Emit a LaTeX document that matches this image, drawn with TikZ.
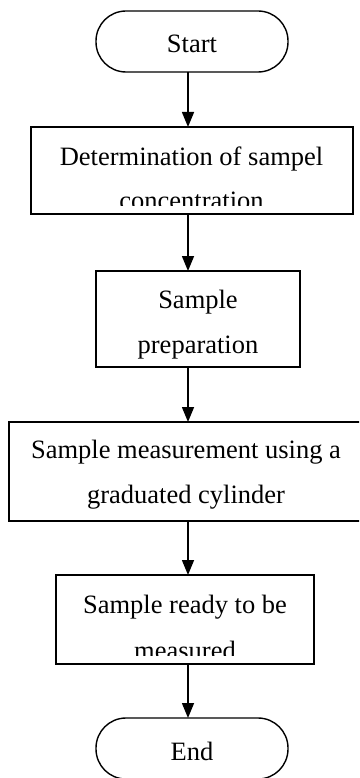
\documentclass[tikz,border=0pt]{standalone}
\usepackage{fontspec}
\setmainfont{Liberation Serif}
\usetikzlibrary{arrows.meta}
\tikzset{
  box/.style={draw, line width=1.4pt, inner sep=0pt, outer sep=0pt},
  term/.style={draw, line width=1.4pt, rounded corners=30pt, inner sep=0pt, outer sep=0pt,
    minimum width=192pt, minimum height=61pt},
  txt/.style={font=\fontsize{26.5}{45}\selectfont, anchor=base, inner sep=0pt},
  arr/.style={-{Triangle[length=15pt,width=12pt]}, line width=1.5pt}
}
\begin{document}
\begin{tikzpicture}[x=1pt,y=-1pt]
\useasboundingbox (0,0) rectangle (359,778);
\clip (0,0) rectangle (359,778);
% shapes
\node[term] (start) at (192,41.5) {};
\node[box, minimum width=322pt, minimum height=87pt] (b1) at (192,170.5) {};
\node[box, minimum width=204pt, minimum height=96pt] (b2) at (198,319) {};
\node[box, minimum width=371pt, minimum height=99pt] (b3) at (194.5,471.5) {};
\node[box, minimum width=258pt, minimum height=89pt] (b4) at (185,619.5) {};
\node[term] (end) at (192,748.5) {};
% texts
\node[txt] (tstart) at (192,53) {Start};
\node[txt] (t1a) at (191.5,165) {Determination of sampel};
\begin{scope}
  \clip (0,180) rectangle (359,205);
  \node[txt] (t1b) at (191.5,209.5) {concentration};
\end{scope}
\node[txt] (t2a) at (198,308) {Sample};
\node[txt] (t2b) at (198,353) {preparation};
\node[txt] (t3a) at (186,458) {Sample measurement using a};
\node[txt] (t3b) at (186,503) {graduated cylinder};
\node[txt] (t4a) at (185,613) {Sample ready to be};
\begin{scope}
  \clip (0,630) rectangle (359,655);
  \node[txt] (t4b) at (185,659) {measured};
\end{scope}
\node[txt] (tend) at (192,760) {End};
% connectors
\coordinate (ax) at (188,0);
\draw[arr] (start.south -| ax) -- (b1.north -| ax);
\draw[arr] (b1.south -| ax) -- (b2.north -| ax);
\draw[arr] (b2.south -| ax) -- (b3.north -| ax);
\draw[arr] (b3.south -| ax) -- (b4.north -| ax);
\draw[arr] (b4.south -| ax) -- (end.north -| ax);
\end{tikzpicture}
\end{document}
